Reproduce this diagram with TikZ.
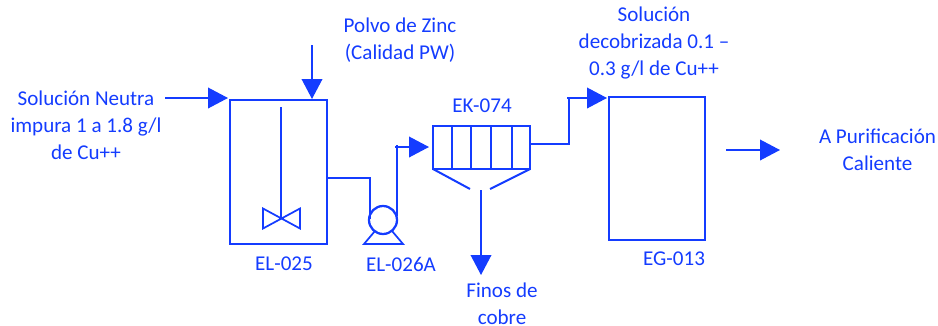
\documentclass[tikz,border=0pt]{standalone}
\usepackage{fontspec}
\setmainfont{Carlito}
\usetikzlibrary{arrows.meta}
\definecolor{blu}{RGB}{20,60,255}
\tikzset{
 x=0.75pt,y=-0.75pt,
 every path/.style={line width=1.5pt,draw=blu,line join=miter},
 lbl/.style={draw=none,text=blu,font=\fontsize{15.8}{20.2}\selectfont,align=center,inner sep=0pt},
 equip/.style={draw=blu,line width=1.7pt,minimum width=0pt,inner sep=0pt},
 flow/.style={line width=1.2pt,-{Triangle[length=15pt,width=15.5pt]}},
 pipe/.style={line width=1.5pt},
}
\begin{document}
\begin{tikzpicture}
\useasboundingbox[draw=none] (0,0) rectangle (938,325);
% equipment
\node[equip,minimum width=72.75pt,minimum height=108pt] (tank) at (278.5,172) {};
\node[equip,minimum width=72pt,minimum height=107pt] (eg) at (657,168.5) {};
\node[equip,minimum width=72.75pt,minimum height=32.25pt] (filter) at (481.5,147.5) {};
\node[equip,circle,minimum size=21pt] (pump) at (383,220) {};
% agitator
\coordinate (shafttop) at (280.5,107);
\coordinate (hub) at (280.5,218.5);
\draw[line width=1.5pt] (shafttop) -- (hub);
\draw[line width=1.3pt] (263,208.5) -- (300,228.5) -- (300,208.5) -- (263,228.5) -- cycle;
% pump base
\draw[line width=1.3pt] (375,231) -- (364,244) -- (403,244) -- (392,231);
% filter internals
\foreach \x in {452,471,491,512} \draw[line width=1.3pt] (\x,126) -- (\x,169);
\draw (433,169) -- (470,189);
\draw (530,169) -- (490,189);
% labels
\node[lbl] (a) at (86,125) {Solución Neutra\\impura 1 a 1.8 g/l\\de Cu++};
\node[lbl] (b) at (400,40) {Polvo de Zinc\\(Calidad PW)};
\node[lbl] (c) at (284,264) {EL-025};
\node[lbl] (d) at (401,264) {EL-026A};
\node[lbl] (e) at (482,106) {EK-074};
\node[lbl] (f) at (502,303.5) {Finos de\\cobre};
\node[lbl] (g) at (654,43) {Solución\\decobrizada 0.1 –\\0.3 g/l de Cu++};
\node[lbl] (h) at (674,258.5) {EG-013};
\node[lbl] (i) at (877.5,150) {A Purificación\\Caliente};
% stream ends
\coordinate (s1) at (165,98);
\coordinate (s1e) at (228,98);
\coordinate (s2) at (312,45);
\coordinate (s2e) at (312,99);
\coordinate (s3) at (726,150);
\coordinate (s3e) at (780,150);
\coordinate (s4) at (481,190);
\coordinate (s4e) at (481,275);
% pipes
\draw[flow] (s1) -- (s1e);
\draw[flow] (s2) -- (s2e);
\draw[flow] (s3) -- (s3e);
\draw[flow] (s4) -- (s4e);
\coordinate (p1) at (tank.east |- 0,178);
\draw[pipe] (p1) -- (369.5,178) -- (369.5,219);
\coordinate (p2) at (396.5,216);
\coordinate (p3) at (429,147);
\draw[pipe] (p2) -- (396.5,145);
\draw[flow] (395,147) -- (p3);
\coordinate (p4) at (filter.east |- 0,144);
\coordinate (p5) at (607,98);
\draw[pipe] (p4) -- (569,144) -- (569,98);
\draw[flow] (567,98) -- (p5);
\end{tikzpicture}
\end{document}
